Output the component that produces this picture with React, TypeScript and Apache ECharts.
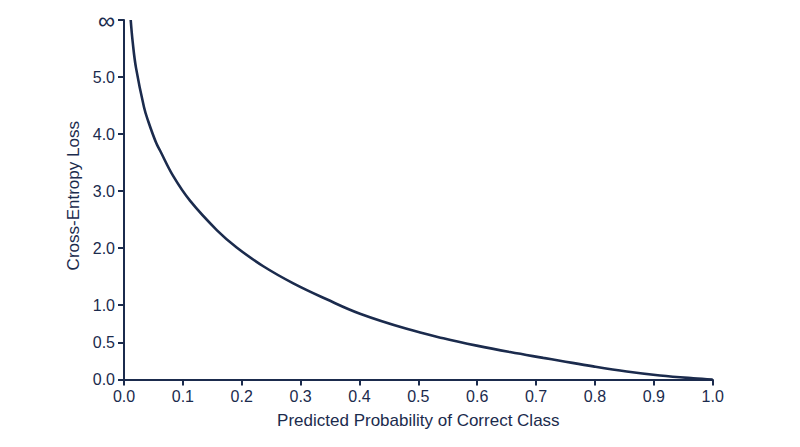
import React, { useEffect, useRef } from "react";
import * as echarts from "echarts";

// Predicted probability of the correct class (x) and loss (y, in tick-label units; 6 = ∞)
const probability = [
  0.0114, 0.0148, 0.0204, 0.034, 0.0413, 0.0544, 0.0612, 0.0837, 0.1121, 0.158,
  0.1914, 0.2366, 0.2876, 0.3443, 0.4009, 0.4802, 0.5424, 0.5991, 0.6557, 0.7122,
  0.7406, 0.7972, 0.854, 0.9105, 0.967, 1.0,
];
const loss = [
  6.0, 5.61, 5.16, 4.47, 4.22, 3.85, 3.71, 3.26, 2.83, 2.31,
  2.01, 1.68, 1.38, 1.1, 0.883, 0.68, 0.554, 0.455, 0.368, 0.29,
  0.252, 0.176, 0.108, 0.054, 0.016, 0,
];
const yTickValues = [0, 0.5, 1, 2, 3, 4, 5, 6];
const yTickLabels = ["0.0", "0.5", "1.0", "2.0", "3.0", "4.0", "5.0", "∞"];

// The y axis is piecewise: 0..1 is stretched relative to 1..5 (and 5..∞)
const LOW_STRETCH = 74.5 / 57;
const toAxis = (v: number) => (v <= 1 ? v * LOW_STRETCH : LOW_STRETCH + (v - 1));

const NAVY = "#1b2b4d";
const FONT = "Liberation Sans, Arial, Helvetica, sans-serif";

export default function App() {
  const ref = useRef<HTMLDivElement>(null);
  useEffect(() => {
    if (!ref.current) return;
    const chart = echarts.init(ref.current, null, { renderer: "svg" });
    const axisPositions = yTickValues.map(toAxis);
    chart.setOption({
      animation: false,
      backgroundColor: "#ffffff",
      grid: { left: 124, right: 87.3, top: 20, bottom: 67.5, containLabel: false },
      xAxis: {
        type: "value",
        min: 0,
        max: 1,
        interval: 0.1,
        name: "Predicted Probability of Correct Class",
        nameLocation: "middle",
        nameGap: 32,
        nameTextStyle: { color: NAVY, fontSize: 17, fontFamily: FONT },
        axisLine: { show: true, lineStyle: { color: NAVY, width: 2 } },
        axisTick: { show: true, length: 6, lineStyle: { color: NAVY, width: 2 } },
        axisLabel: {
          color: NAVY,
          fontSize: 16,
          fontFamily: FONT,
          margin: 9,
          formatter: (v: number) => v.toFixed(1),
        },
        splitLine: { show: false },
      },
      yAxis: {
        type: "value",
        min: 0,
        max: toAxis(6),
        name: "Cross-Entropy Loss",
        nameLocation: "middle",
        nameGap: 42,
        nameTextStyle: { color: NAVY, fontSize: 17, fontFamily: FONT, padding: [0, 0, 0, 8] },
        axisLine: { show: true, lineStyle: { color: NAVY, width: 2 } },
        axisTick: {
          show: true,
          length: 6,
          customValues: axisPositions,
          lineStyle: { color: NAVY, width: 2 },
        },
        axisLabel: {
          color: NAVY,
          fontSize: 16,
          fontFamily: FONT,
          margin: 9,
          customValues: axisPositions,
          formatter: (v: number) => {
            let best = 0;
            axisPositions.forEach((p, i) => {
              if (Math.abs(p - v) < Math.abs(axisPositions[best] - v)) best = i;
            });
            const label = yTickLabels[best];
            return label === "∞" ? "{inf|∞}" : label;
          },
          rich: {
            inf: { fontSize: 24, color: NAVY, fontFamily: FONT },
          },
        },
        splitLine: { show: false },
      },
      series: [
        {
          type: "line",
          data: probability.map((p, i) => [p, toAxis(loss[i])]),
          showSymbol: false,
          smooth: 0.4,
          clip: true,
          lineStyle: { color: NAVY, width: 2.6 },
        },
      ],
    });
    return () => chart.dispose();
  }, []);
  return <div ref={ref} style={{ width: 800, height: 447, position: "absolute", left: 0, top: 0 }} />;
}
